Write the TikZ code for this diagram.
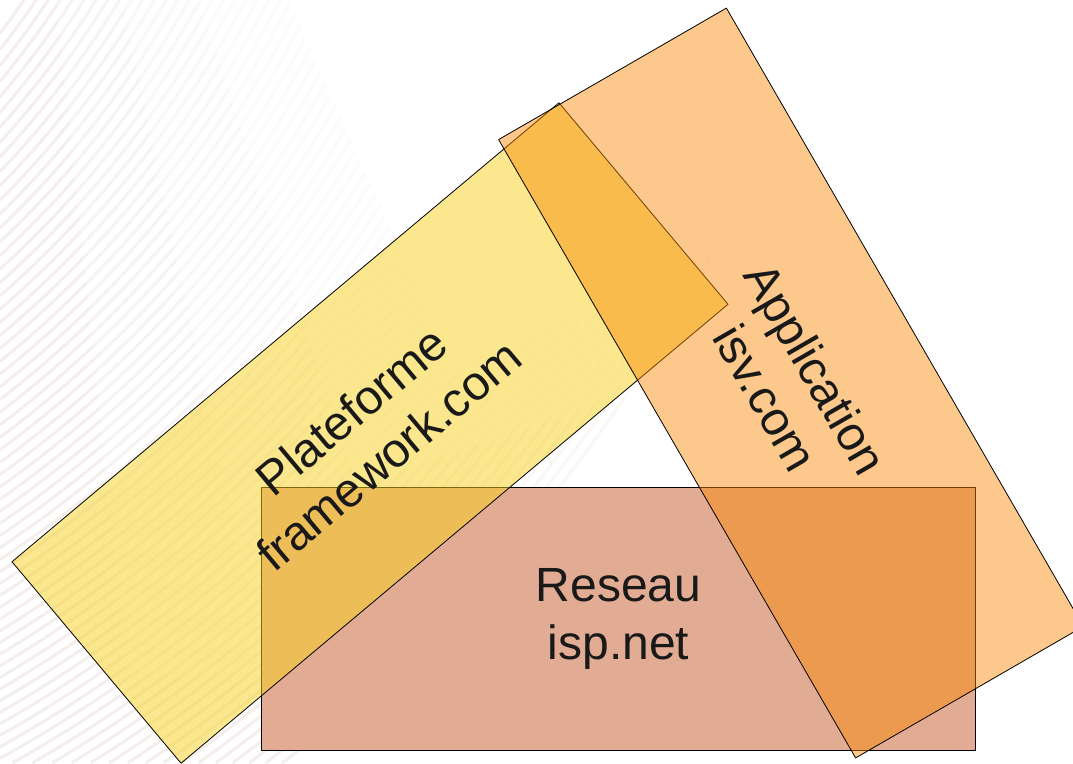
\documentclass[tikz,border=0pt]{standalone}
\usepackage{fontspec}
\setmainfont{Liberation Sans}
\definecolor{reseau}{RGB}{226,171,147}
\definecolor{plateforme}{RGB}{249,209,31}
\definecolor{application}{RGB}{250,134,0}
\definecolor{stripecol}{RGB}{244,239,236}
\begin{document}
\begin{tikzpicture}[x=1pt,y=-1pt,line join=round,
	zone/.style={draw=black,line width=0.8pt,minimum width=714pt,minimum height=263pt,inner sep=0pt,
		align=center,text=black!90,text opacity=1,font=\fontsize{48}{58}\selectfont},
	stripe/.style={draw=stripecol,line width=3pt}]
	\useasboundingbox (0,0) rectangle (1073,763);
	\clip (0,0) rectangle (1073,763);
	\fill[white] (0,0) rectangle (1073,763);
	% faint background waves
	\foreach \r in {880,890,...,1600}{
		\pgfmathsetmacro\az{min(acos(700/\r),asin(min(1,1263/\r)))}
		\foreach \k/\op in {0/1,1/0.7,2/0.45,3/0.2}
			\draw[stripe,opacity=\op] (-700,-500) ++({\az-6*\k}:\r) arc[start angle={\az-6*\k},end angle={\az-6*(\k+1)},radius=\r];
	}
	\node[zone,fill=reseau] (reseau) at (618.5,618.5) {Reseau\\isp.net};
	\node[zone,fill=plateforme,fill opacity=0.5,rotate=40] (plateforme) at (370,433) {Plateforme\\framework.com};
	\node[zone,fill=application,fill opacity=0.45,rotate=-60] (application) at (791,383) {Application\\isv.com};
\end{tikzpicture}
\end{document}
